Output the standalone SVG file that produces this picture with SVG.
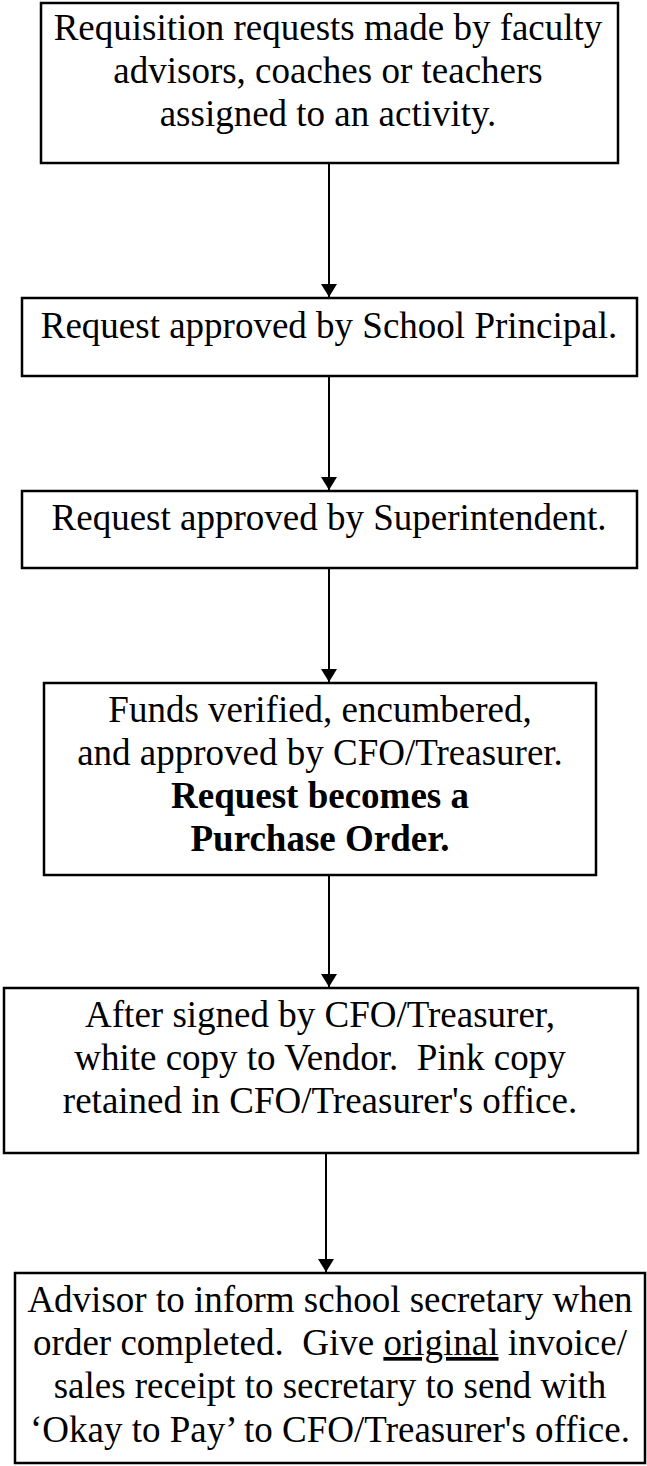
<svg xmlns="http://www.w3.org/2000/svg" width="647" height="1466" viewBox="0 0 647 1466">
<style>
.box{fill:#fff;stroke:#000;stroke-width:2.5}
.t{font-family:"Liberation Serif","Times New Roman",serif;font-size:37px;fill:#000;text-anchor:middle;white-space:pre}
.b{font-weight:bold}
.c{stroke:#000;stroke-width:2;fill:none}
</style>
<defs>
<marker id="ah" markerWidth="13" markerHeight="16" refX="13" refY="8" orient="auto" markerUnits="userSpaceOnUse">
<path d="M0,0 L13,8 L0,16 Z" fill="#000"/>
</marker>
</defs>
<rect width="647" height="1466" fill="#fff"/>
<g id="connectors">
<line class="c" x1="329" y1="163" x2="329" y2="297" marker-end="url(#ah)"/>
<line class="c" x1="329" y1="376" x2="329" y2="490" marker-end="url(#ah)"/>
<line class="c" x1="329" y1="568" x2="329" y2="682" marker-end="url(#ah)"/>
<line class="c" x1="329" y1="875" x2="329" y2="987" marker-end="url(#ah)"/>
<line class="c" x1="326" y1="1153" x2="326" y2="1272" marker-end="url(#ah)"/>
</g>
<g id="node1">
<rect class="box" x="41" y="3" width="577" height="160"/>
<text class="t" x="328" y="40">Requisition requests made by faculty</text>
<text class="t" x="328" y="83">advisors, coaches or teachers</text>
<text class="t" x="328" y="126">assigned to an activity.</text>
</g>
<g id="node2">
<rect class="box" x="22" y="298" width="615" height="78"/>
<text class="t" x="329" y="338">Request approved by School Principal.</text>
</g>
<g id="node3">
<rect class="box" x="22" y="491" width="615" height="77"/>
<text class="t" x="329" y="530">Request approved by Superintendent.</text>
</g>
<g id="node4">
<rect class="box" x="44" y="683" width="552" height="192"/>
<text class="t" x="320" y="722">Funds verified, encumbered,</text>
<text class="t" x="320" y="765">and approved by CFO/Treasurer.</text>
<text class="t b" x="320" y="808">Request becomes a</text>
<text class="t b" x="320" y="851">Purchase Order.</text>
</g>
<g id="node5">
<rect class="box" x="4" y="988" width="634" height="165"/>
<text class="t" x="320" y="1027">After signed by CFO/Treasurer,</text>
<text class="t" x="320" y="1070">white copy to Vendor.  Pink copy</text>
<text class="t" x="320" y="1113">retained in CFO/Treasurer's office.</text>
</g>
<g id="node6">
<rect class="box" x="15" y="1273" width="630" height="190"/>
<text class="t" x="330" y="1312">Advisor to inform school secretary when</text>
<text class="t" x="330" y="1355">order completed.  Give <tspan text-decoration="underline">original</tspan> invoice/</text>
<text class="t" x="330" y="1398">sales receipt to secretary to send with</text>
<text class="t" x="330" y="1442">‘Okay to Pay’ to CFO/Treasurer's office.</text>
</g>
</svg>
